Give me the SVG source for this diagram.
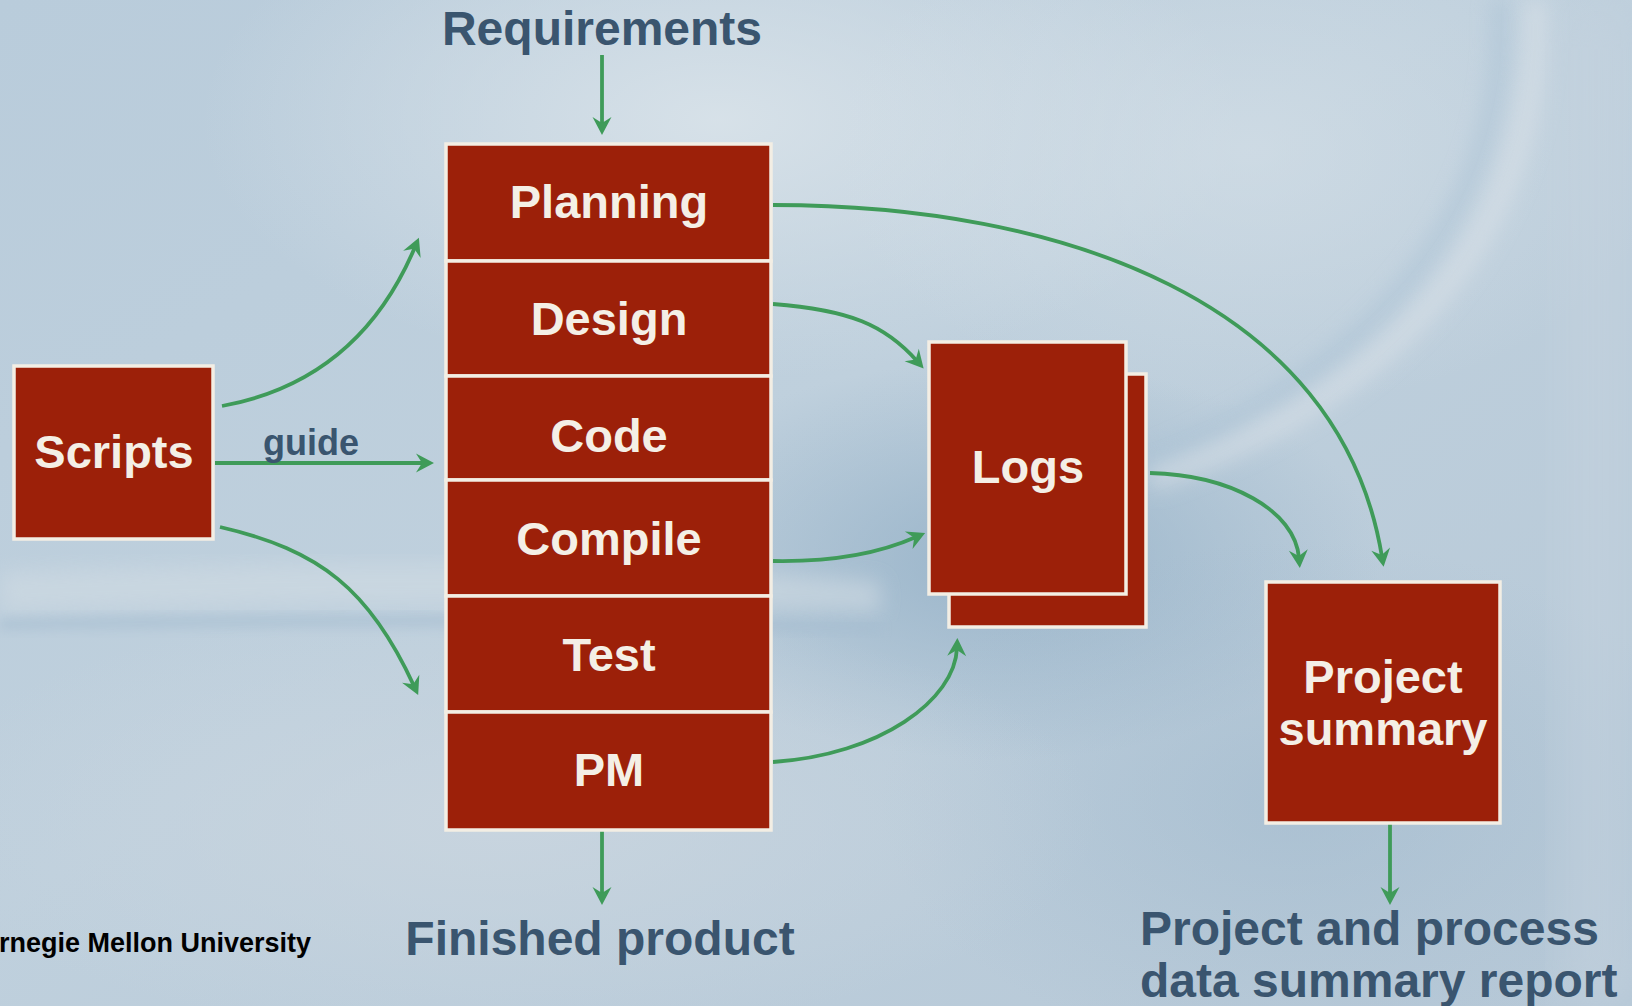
<svg xmlns="http://www.w3.org/2000/svg" width="1632" height="1006" viewBox="0 0 1632 1006">
<defs>
<linearGradient id="bgBase" x1="0" y1="0" x2="1" y2="1">
<stop offset="0" stop-color="#b9ccdb"/>
<stop offset="0.45" stop-color="#bfd0dd"/>
<stop offset="1" stop-color="#b6c8d7"/>
</linearGradient>
<radialGradient id="lightTop" cx="0.5" cy="0.5" r="0.5">
<stop offset="0" stop-color="#d8e2e9" stop-opacity="0.95"/>
<stop offset="1" stop-color="#d8e2e9" stop-opacity="0"/>
</radialGradient>
<radialGradient id="darkMid" cx="0.5" cy="0.5" r="0.5">
<stop offset="0" stop-color="#96b2c8" stop-opacity="0.9"/>
<stop offset="1" stop-color="#96b2c8" stop-opacity="0"/>
</radialGradient>
<radialGradient id="lightBot" cx="0.5" cy="0.5" r="0.5">
<stop offset="0" stop-color="#c9d5df" stop-opacity="0.9"/>
<stop offset="1" stop-color="#c9d5df" stop-opacity="0"/>
</radialGradient>
<filter id="blur20" x="-20%" y="-20%" width="140%" height="140%"><feGaussianBlur stdDeviation="20"/></filter>
<filter id="blur10" x="-20%" y="-20%" width="140%" height="140%"><feGaussianBlur stdDeviation="10"/></filter>
<filter id="blur6" x="-20%" y="-20%" width="140%" height="140%"><feGaussianBlur stdDeviation="6"/></filter>
<marker id="arrow" markerUnits="userSpaceOnUse" markerWidth="40" markerHeight="40" refX="0" refY="0" viewBox="-20 -20 40 40" orient="auto" overflow="visible">
<path d="M10,0 L-8,-9.5 L-2,0 L-8,9.5 Z" fill="#3f9b59"/>
</marker>
<style>
.box{fill:#9c2009;stroke:#f3eee4;stroke-width:3.5}
.lbl{font-family:"Liberation Sans",Arial,sans-serif;font-weight:bold;font-size:47px;fill:#f4efe6;text-anchor:middle}
.out{font-family:"Liberation Sans",Arial,sans-serif;font-weight:bold;font-size:48px;fill:#3a556f}
.con{fill:none;stroke:#3f9b59;stroke-width:3.8;marker-end:url(#arrow)}
</style>
</defs>

<g id="background">
<rect width="1632" height="1006" fill="url(#bgBase)"/>
<ellipse cx="720" cy="120" rx="520" ry="260" fill="url(#lightTop)"/>
<ellipse cx="1250" cy="150" rx="420" ry="260" fill="url(#lightTop)" opacity="0.6"/>
<ellipse cx="1000" cy="560" rx="380" ry="200" fill="url(#darkMid)"/>
<ellipse cx="1300" cy="800" rx="420" ry="260" fill="url(#darkMid)" opacity="0.45"/>
<ellipse cx="500" cy="820" rx="600" ry="220" fill="url(#lightBot)"/>
<path d="M0,572 C300,562 600,558 880,582 L880,612 C600,600 300,602 0,612 Z" fill="#d0dbe3" filter="url(#blur10)" opacity="0.6"/>
<path d="M0,618 C300,612 600,612 880,624 L880,634 C600,626 300,626 0,630 Z" fill="#a6bdd0" filter="url(#blur6)" opacity="0.6"/>
<path d="M1500,0 C1510,180 1410,360 1130,470" fill="none" stroke="#a9c1d4" stroke-width="18" filter="url(#blur10)" opacity="0.55"/>
<path d="M1535,0 C1545,190 1440,380 1150,480" fill="none" stroke="#dbe2e8" stroke-width="24" filter="url(#blur10)" opacity="0.55"/>
<rect x="1560" y="0" width="72" height="1006" fill="#c4d2de" opacity="0.5" filter="url(#blur20)"/>
</g>

<g id="connectors">
<path class="con" d="M602,55 V125"/>
<path class="con" d="M602,831 V895"/>
<path class="con" d="M1390,824 V895"/>
<path class="con" d="M215,463 H424"/>
<path class="con" d="M222,406 C320,388 380,330 415,247"/>
<path class="con" d="M220,527 C320,550 370,590 414,686"/>
<path class="con" d="M773,205 C1060,205 1340,300 1382,557"/>
<path class="con" d="M773,304 C850,310 885,325 917,361"/>
<path class="con" d="M773,561 C830,562 880,553 916,537"/>
<path class="con" d="M773,762 C880,755 955,700 957,648"/>
<path class="con" d="M1150,473 C1230,475 1295,510 1299,558"/>
</g>

<g id="requirements"><text class="out" x="602" y="45" text-anchor="middle">Requirements</text></g>

<g id="scripts">
<rect class="box" x="14" y="366" width="199" height="173"/>
<text class="lbl" x="114" y="468">Scripts</text>
</g>
<g id="guide-label"><text class="out" x="311" y="455" text-anchor="middle" style="font-size:36px">guide</text></g>

<g id="planning"><rect class="box" x="446" y="144" width="325" height="117"/><text class="lbl" x="609" y="218">Planning</text></g>
<g id="design"><rect class="box" x="446" y="261" width="325" height="115"/><text class="lbl" x="609" y="335">Design</text></g>
<g id="code"><rect class="box" x="446" y="376" width="325" height="104"/><text class="lbl" x="609" y="452">Code</text></g>
<g id="compile"><rect class="box" x="446" y="480" width="325" height="116"/><text class="lbl" x="609" y="555">Compile</text></g>
<g id="test"><rect class="box" x="446" y="596" width="325" height="116"/><text class="lbl" x="609" y="671">Test</text></g>
<g id="pm"><rect class="box" x="446" y="712" width="325" height="118"/><text class="lbl" x="609" y="786">PM</text></g>

<g id="logs">
<rect class="box" x="949" y="374" width="197" height="253"/>
<rect class="box" x="929" y="342" width="197" height="252"/>
<text class="lbl" x="1028" y="483">Logs</text>
</g>

<g id="project-summary">
<rect class="box" x="1266" y="582" width="234" height="241"/>
<text class="lbl" x="1383" y="693">Project</text>
<text class="lbl" x="1383" y="745">summary</text>
</g>

<g id="finished-product"><text class="out" x="600" y="955" text-anchor="middle">Finished product</text></g>
<g id="report">
<text class="out" x="1140" y="945">Project and process</text>
<text class="out" x="1140" y="997">data summary report</text>
</g>
<g id="footer"><text x="-1" y="952" font-family="Liberation Sans, Arial, sans-serif" font-weight="bold" font-size="27" fill="#000000">rnegie Mellon University</text></g>
</svg>
